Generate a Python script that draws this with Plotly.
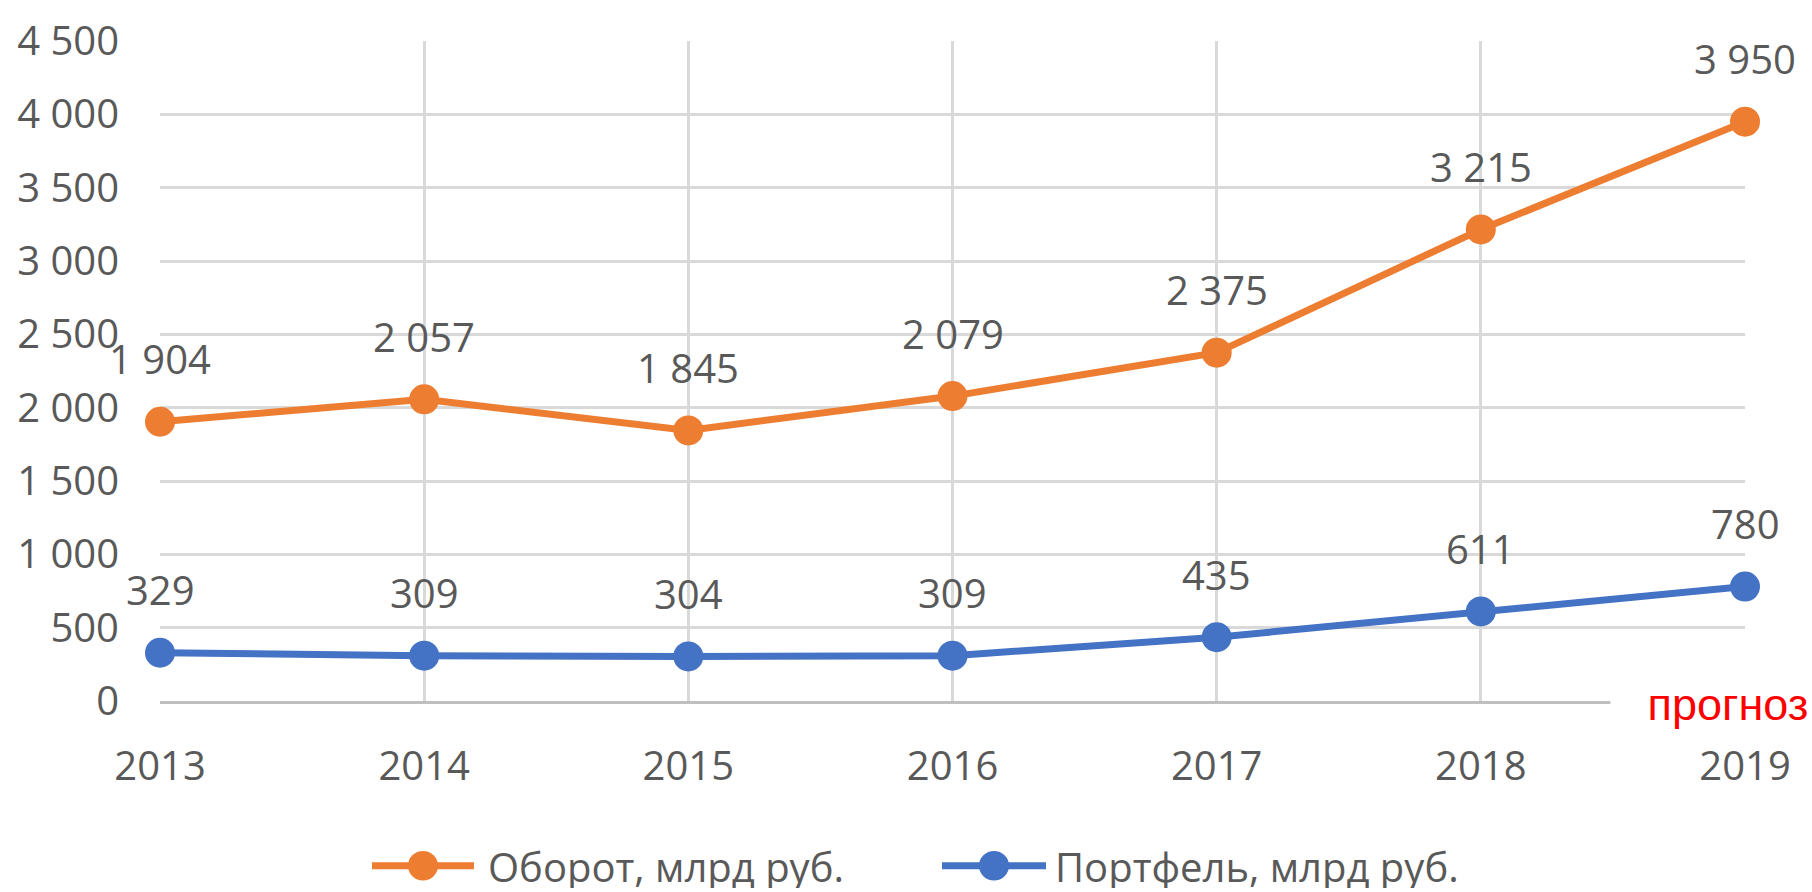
import plotly.graph_objects as go

# ---- data ----
years = [2013, 2014, 2015, 2016, 2017, 2018, 2019]
turnover = [1904, 2057, 1845, 2079, 2375, 3215, 3950]
portfolio = [329, 309, 304, 309, 435, 611, 780]
series_names = ["Оборот, млрд руб.", "Портфель, млрд руб."]
series_colors = ["#ED7D31", "#4472C4"]
y_ticks = [0, 500, 1000, 1500, 2000, 2500, 3000, 3500, 4000, 4500]
forecast_label = "прогноз"

# ---- geometry (pixels) ----
W, H = 1812, 892
L, R, T, B = 160, 1745, 32, 701
TXT = "#595959"
FONT = "Open Sans"
FS = 40


def px_x(p):
    return (p - L) / (R - L)


def px_y(p):
    return (B - p) / (B - T)


def fmt(v):
    return f"{v:,}".replace(",", " ")


fig = go.Figure()
all_series = [turnover, portfolio]
for name, vals, col in zip(series_names, all_series, series_colors):
    fig.add_trace(go.Scatter(
        x=years, y=vals, name=name, mode="lines+markers",
        line=dict(color=col, width=7),
        marker=dict(color=col, size=30),
        cliponaxis=False, showlegend=False, hoverinfo="skip",
    ))

annotations = []
for vals in all_series:
    for x, v in zip(years, vals):
        annotations.append(dict(
            x=x, y=v, xref="x", yref="y", text=fmt(v), showarrow=False,
            yshift=63, xanchor="center", yanchor="middle",
            font=dict(family=FONT, size=FS, color=TXT),
        ))

# forecast note (white box hides end of axis line)
annotations.append(dict(
    x=years[-1], y=0, xref="x", yref="y", text=forecast_label, showarrow=False,
    xshift=-17, yshift=-3, xanchor="center", yanchor="middle",
    width=234, height=82, bgcolor="white", borderpad=0,
    font=dict(family="Liberation Sans, Arial", size=45, color="#FF0000"),
))

# custom legend
shapes = []
legend_items = [(372, 474, 423, 487), (942, 1046, 994, 1054)]
ly = 868
r = 15
for (x0, x1, xm, xt), name, col in zip(legend_items, series_names, series_colors):
    shapes.append(dict(type="line", xref="paper", yref="paper",
                       x0=px_x(x0), x1=px_x(x1), y0=px_y(ly), y1=px_y(ly),
                       line=dict(color=col, width=7)))
    shapes.append(dict(type="circle", xref="paper", yref="paper",
                       x0=px_x(xm - r), x1=px_x(xm + r), y0=px_y(ly + r), y1=px_y(ly - r),
                       fillcolor=col, line=dict(color=col, width=0)))
    annotations.append(dict(x=px_x(xt), y=px_y(ly), xref="paper", yref="paper",
                            text=name, showarrow=False, xanchor="left", yanchor="middle",
                            height=44, borderpad=0,
                            font=dict(family=FONT, size=FS, color=TXT)))

fig.update_layout(
    width=W, height=H,
    margin=dict(l=L, r=W - R, t=T, b=H - B, pad=0),
    paper_bgcolor="white", plot_bgcolor="white",
    separators=", ",
    showlegend=False,
    xaxis=dict(
        range=[years[0], years[-1]], tickvals=years, ticktext=[str(y) for y in years],
        showgrid=True, gridcolor="#d9d9d9", gridwidth=3,
        showline=True, linecolor="#bfbfbf", linewidth=3, zeroline=False,
        ticks="", tickfont=dict(family=FONT, size=FS, color=TXT),
        ticklabelstandoff=28, fixedrange=True,
    ),
    yaxis=dict(
        range=[0, 4500], tickvals=y_ticks, tickformat=",d",
        showgrid=True, gridcolor="#d9d9d9", gridwidth=3,
        showline=False, zeroline=False,
        ticks="", tickfont=dict(family=FONT, size=FS, color=TXT),
        ticklabelstandoff=40, fixedrange=True,
    ),
    annotations=annotations,
    shapes=shapes,
)

fig.write_html(
    "out.html",
    config={"displayModeBar": False},
    post_script="document.body.style.margin='0';document.body.style.overflow='hidden';",
)
